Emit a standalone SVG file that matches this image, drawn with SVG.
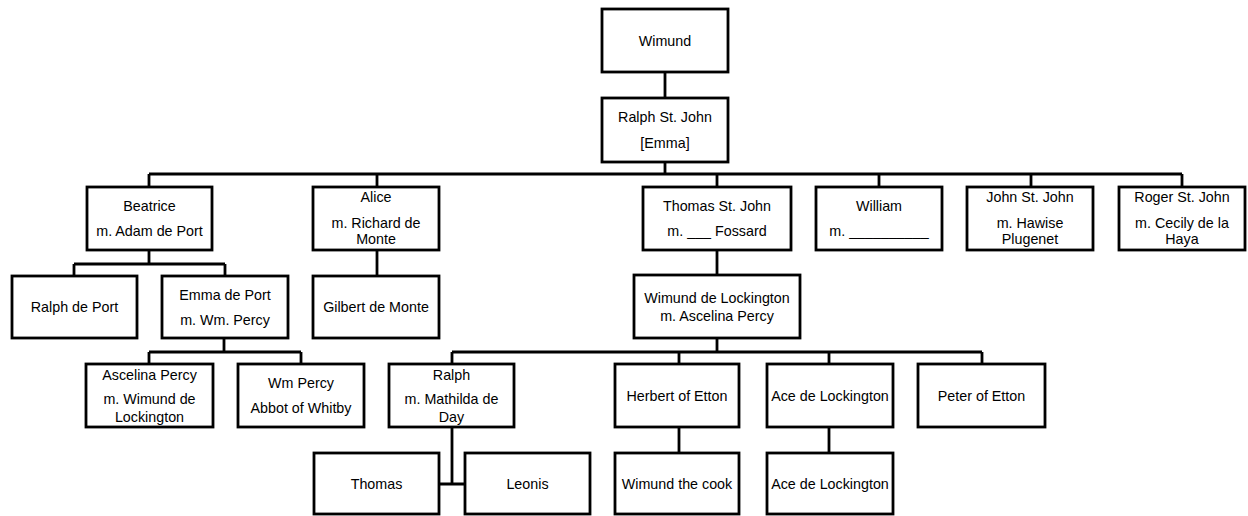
<svg xmlns="http://www.w3.org/2000/svg" width="1248" height="516" viewBox="0 0 1248 516">
<style>
.box{fill:#fff;stroke:#000;stroke-width:2.8}
.ln{fill:none;stroke:#000;stroke-width:2.8}
text{font-family:"Liberation Sans",Arial,sans-serif;font-size:14.3px;fill:#000;text-anchor:middle}
</style>
<rect width="1248" height="516" fill="#fff"/>
<g id="connectors">
<path class="ln" d="M665 72V98M665 162V174M149 174H1182M149 174V187M377 174V187M717 174V187M879 174V187M1031 174V187M1182 174V187"/>
<path class="ln" d="M149 250V264M74 264H225M74 264V276M225 264V276"/>
<path class="ln" d="M377 250V276"/>
<path class="ln" d="M717 250V275"/>
<path class="ln" d="M224 338V352M149 352H301M149 352V364M301 352V364"/>
<path class="ln" d="M717 338V352M452 352H982M452 352V364M679 352V364M829 352V364M982 352V364"/>
<path class="ln" d="M452 427V484M439 484H465"/>
<path class="ln" d="M679 427V453M829 427V453"/>
</g>
<g id="n-wimund"><rect class="box" x="602" y="9" width="126" height="63"/><text x="665" y="46">Wimund</text></g>
<g id="n-ralph-st-john"><rect class="box" x="602" y="98" width="126" height="64"/><text x="665" y="122">Ralph St. John</text><text x="665" y="148">[Emma]</text></g>
<g id="n-beatrice"><rect class="box" x="87" y="187" width="125" height="63"/><text x="149.5" y="211">Beatrice</text><text x="149.5" y="236">m. Adam de Port</text></g>
<g id="n-alice"><rect class="box" x="313" y="187" width="126" height="63"/><text x="376" y="202">Alice</text><text x="376" y="228">m. Richard de</text><text x="376" y="244">Monte</text></g>
<g id="n-thomas-st-john"><rect class="box" x="643" y="187" width="148" height="63"/><text x="717" y="211">Thomas St. John</text><text x="717" y="236">m. ___ Fossard</text></g>
<g id="n-william"><rect class="box" x="816" y="187" width="126" height="63"/><text x="879" y="211">William</text><text x="879" y="236">m. __________</text></g>
<g id="n-john"><rect class="box" x="967" y="187" width="126" height="63"/><text x="1030" y="202">John St. John</text><text x="1030" y="228">m. Hawise</text><text x="1030" y="244">Plugenet</text></g>
<g id="n-roger"><rect class="box" x="1119" y="187" width="126" height="63"/><text x="1182" y="202">Roger St. John</text><text x="1182" y="228">m. Cecily de la</text><text x="1182" y="244">Haya</text></g>
<g id="n-ralph-de-port"><rect class="box" x="12" y="276" width="125" height="62"/><text x="74.5" y="312">Ralph de Port</text></g>
<g id="n-emma-de-port"><rect class="box" x="162" y="276" width="126" height="62"/><text x="225" y="300">Emma de Port</text><text x="225" y="325">m. Wm. Percy</text></g>
<g id="n-gilbert"><rect class="box" x="313" y="276" width="126" height="62"/><text x="376" y="312">Gilbert de Monte</text></g>
<g id="n-wimund-de-lockington"><rect class="box" x="634" y="275" width="166" height="63"/><text x="717" y="303">Wimund de Lockington</text><text x="717" y="321">m. Ascelina Percy</text></g>
<g id="n-ascelina"><rect class="box" x="86" y="364" width="127" height="63"/><text x="149.5" y="380">Ascelina Percy</text><text x="149.5" y="404">m. Wimund de</text><text x="149.5" y="422">Lockington</text></g>
<g id="n-wm-percy"><rect class="box" x="238" y="364" width="126" height="63"/><text x="301" y="388">Wm Percy</text><text x="301" y="413">Abbot of Whitby</text></g>
<g id="n-ralph"><rect class="box" x="389" y="364" width="125" height="63"/><text x="451.5" y="380">Ralph</text><text x="451.5" y="404">m. Mathilda de</text><text x="451.5" y="422">Day</text></g>
<g id="n-herbert"><rect class="box" x="615" y="364" width="124" height="63"/><text x="677" y="401">Herbert of Etton</text></g>
<g id="n-ace"><rect class="box" x="767" y="364" width="126" height="63"/><text x="830" y="401">Ace de Lockington</text></g>
<g id="n-peter"><rect class="box" x="918" y="364" width="127" height="63"/><text x="981.5" y="401">Peter of Etton</text></g>
<g id="n-thomas"><rect class="box" x="314" y="453" width="125" height="61"/><text x="376.5" y="489">Thomas</text></g>
<g id="n-leonis"><rect class="box" x="465" y="453" width="125" height="61"/><text x="527.5" y="489">Leonis</text></g>
<g id="n-wimund-cook"><rect class="box" x="615" y="453" width="124" height="61"/><text x="677" y="489">Wimund the cook</text></g>
<g id="n-ace2"><rect class="box" x="767" y="453" width="126" height="61"/><text x="830" y="489">Ace de Lockington</text></g>
</svg>
